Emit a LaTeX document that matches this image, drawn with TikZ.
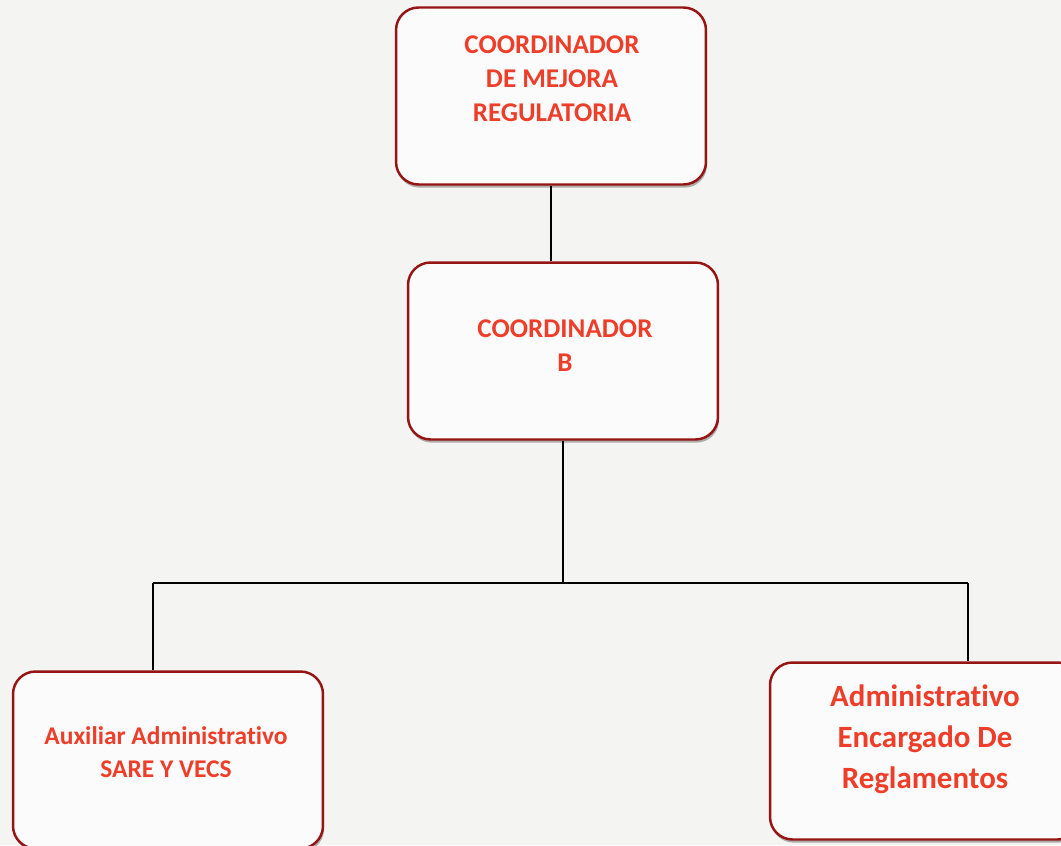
\documentclass[tikz,border=0pt]{standalone}
\usepackage{fontspec}
\setmainfont[Ligatures=NoCommon]{Carlito}
\usetikzlibrary{shadows}
\definecolor{boxred}{RGB}{150,20,20}
\definecolor{txtred}{RGB}{238,62,42}
\definecolor{paper}{RGB}{244,244,242}
\tikzset{
  box/.style={draw=boxred, line width=1.4pt, fill=white!97!gray, rounded corners=0.45cm,
    minimum width=6.2cm, minimum height=3.54cm,
    drop shadow={shadow xshift=0.6pt, shadow yshift=-1.8pt, fill=black!60}},
  lbl/.style={text=txtred, font=\bfseries\fontsize{15.4}{19.3}\selectfont, align=center},
  link/.style={line width=0.8pt, black}
}
\begin{document}
\begin{tikzpicture}[x=0.02cm,y=-0.02cm]
\useasboundingbox (0,0) rectangle (1061,845);
\fill[paper] (0,0) rectangle (1061,845);
\clip (0,0) rectangle (1061,845);
% boxes
\node[box] (top) at (551,96) {};
\node[box] (mid) at (563,351) {};
\node[box] (aux) at (168,760) {};
\node[box] (adm) at (925,751) {};
% texts
\node[lbl] (topt) at (552,79) {COORDINADOR\\DE MEJORA\\REGULATORIA};
\node[lbl] (midt) at (565,346) {COORDINADOR\\B};
\node[lbl, font=\bfseries\fontsize{14.5}{18.7}\selectfont] (auxt) at (166,752) {Auxiliar Administrativo\\SARE Y VECS};
\node[lbl, font=\bfseries\fontsize{17.6}{23.3}\selectfont] (admt) at (925,739) {Administrativo\\Encargado De\\Reglamentos};
% lines
\coordinate (busL) at (153,583);
\coordinate (busR) at (968,583);
\draw[link] (top.south) -- (top.south |- mid.north);
\draw[link] (mid.south) -- (mid.south |- busL);
\draw[link] (busL) -- (busR);
\draw[link] (busL) -- (busL |- aux.north);
\draw[link] (busR) -- (busR |- adm.north);
\end{tikzpicture}
\end{document}
